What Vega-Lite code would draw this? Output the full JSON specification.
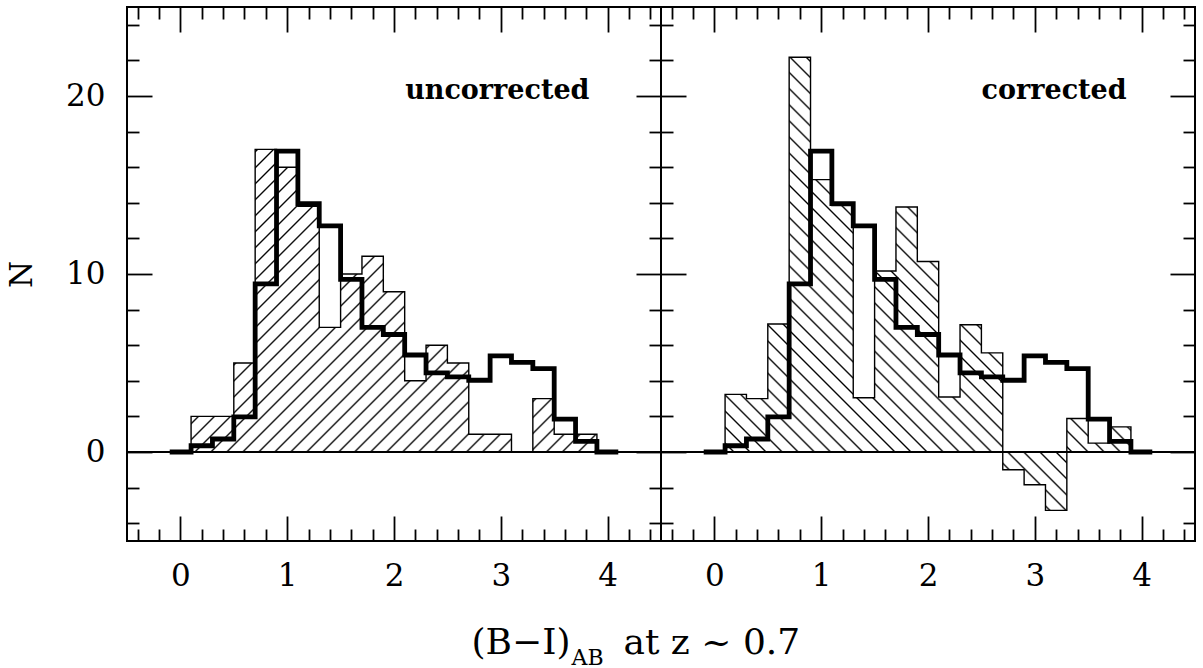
{
"$schema": "https://vega.github.io/schema/vega-lite/v6.json",
"background": "white",
"padding": {"left": 5, "top": 5, "right": 5, "bottom": 0},
"spacing": 0,
"bounds": "flush",
"config": {
  "view": {"stroke": "black", "strokeWidth": 2},
  "axis": {"grid": false, "domain": false, "labelFont": "DejaVu Serif", "titleFont": "DejaVu Serif", "labelColor": "#000", "titleColor": "#000", "tickColor": "#000"}
},
"datasets": {
  "hist": [
    {"x": -0.1, "model": 0, "unc": 0, "cor": 0},
    {"x": 0.1, "model": 0.35, "unc": 2, "cor": 3.24},
    {"x": 0.3, "model": 0.73, "unc": 2, "cor": 3.0},
    {"x": 0.5, "model": 1.97, "unc": 5, "cor": 7.19},
    {"x": 0.7, "model": 9.45, "unc": 17, "cor": 22.18},
    {"x": 0.9, "model": 16.9, "unc": 16, "cor": 15.3},
    {"x": 1.1, "model": 13.95, "unc": 13.8, "cor": 13.85},
    {"x": 1.3, "model": 12.7, "unc": 7, "cor": 3.05},
    {"x": 1.5, "model": 9.7, "unc": 10, "cor": 10.17},
    {"x": 1.7, "model": 7.0, "unc": 11, "cor": 13.76},
    {"x": 1.9, "model": 6.6, "unc": 9, "cor": 10.7},
    {"x": 2.1, "model": 5.45, "unc": 4, "cor": 3.09},
    {"x": 2.3, "model": 4.45, "unc": 6, "cor": 7.15},
    {"x": 2.5, "model": 4.22, "unc": 5, "cor": 5.57},
    {"x": 2.7, "model": 4.03, "unc": 1, "cor": -1.0},
    {"x": 2.9, "model": 5.4, "unc": 1, "cor": -1.84},
    {"x": 3.1, "model": 5.03, "unc": 0, "cor": -3.28},
    {"x": 3.3, "model": 4.68, "unc": 3, "cor": 1.88},
    {"x": 3.5, "model": 1.85, "unc": 1, "cor": 0.5},
    {"x": 3.7, "model": 0.6, "unc": 1, "cor": 1.41},
    {"x": 3.9, "model": 0, "unc": 0, "cor": 0},
    {"x": 4.1, "model": 0, "unc": 0, "cor": 0}
  ]
},
"hconcat": [
  {
    "width": 534,
    "height": 534,
    "data": {"name": "hist"},
    "layer": [
      {
        "mark": {"type": "area", "interpolate": "step-after", "opacity": 1, "fillOpacity": 1,
          "fill": {"gradient": "linear", "x1": 0, "y1": 0, "x2": 1.1509, "y2": 0.7763, "stops": [
{"offset":0.0081,"color":"#fff"},{"offset":0.0106,"color":"#000"},{"offset":0.0131,"color":"#fff"},
{"offset":0.0294,"color":"#fff"},{"offset":0.0319,"color":"#000"},{"offset":0.0344,"color":"#fff"},
{"offset":0.0507,"color":"#fff"},{"offset":0.0532,"color":"#000"},{"offset":0.0557,"color":"#fff"},
{"offset":0.0720,"color":"#fff"},{"offset":0.0745,"color":"#000"},{"offset":0.0770,"color":"#fff"},
{"offset":0.0932,"color":"#fff"},{"offset":0.0957,"color":"#000"},{"offset":0.0982,"color":"#fff"},
{"offset":0.1145,"color":"#fff"},{"offset":0.1170,"color":"#000"},{"offset":0.1195,"color":"#fff"},
{"offset":0.1358,"color":"#fff"},{"offset":0.1383,"color":"#000"},{"offset":0.1408,"color":"#fff"},
{"offset":0.1571,"color":"#fff"},{"offset":0.1596,"color":"#000"},{"offset":0.1621,"color":"#fff"},
{"offset":0.1783,"color":"#fff"},{"offset":0.1808,"color":"#000"},{"offset":0.1833,"color":"#fff"},
{"offset":0.1996,"color":"#fff"},{"offset":0.2021,"color":"#000"},{"offset":0.2046,"color":"#fff"},
{"offset":0.2209,"color":"#fff"},{"offset":0.2234,"color":"#000"},{"offset":0.2259,"color":"#fff"},
{"offset":0.2422,"color":"#fff"},{"offset":0.2447,"color":"#000"},{"offset":0.2472,"color":"#fff"},
{"offset":0.2635,"color":"#fff"},{"offset":0.2660,"color":"#000"},{"offset":0.2685,"color":"#fff"},
{"offset":0.2847,"color":"#fff"},{"offset":0.2872,"color":"#000"},{"offset":0.2897,"color":"#fff"},
{"offset":0.3060,"color":"#fff"},{"offset":0.3085,"color":"#000"},{"offset":0.3110,"color":"#fff"},
{"offset":0.3273,"color":"#fff"},{"offset":0.3298,"color":"#000"},{"offset":0.3323,"color":"#fff"},
{"offset":0.3486,"color":"#fff"},{"offset":0.3511,"color":"#000"},{"offset":0.3536,"color":"#fff"},
{"offset":0.3698,"color":"#fff"},{"offset":0.3723,"color":"#000"},{"offset":0.3748,"color":"#fff"},
{"offset":0.3911,"color":"#fff"},{"offset":0.3936,"color":"#000"},{"offset":0.3961,"color":"#fff"},
{"offset":0.4124,"color":"#fff"},{"offset":0.4149,"color":"#000"},{"offset":0.4174,"color":"#fff"},
{"offset":0.4337,"color":"#fff"},{"offset":0.4362,"color":"#000"},{"offset":0.4387,"color":"#fff"},
{"offset":0.4550,"color":"#fff"},{"offset":0.4575,"color":"#000"},{"offset":0.4600,"color":"#fff"},
{"offset":0.4762,"color":"#fff"},{"offset":0.4787,"color":"#000"},{"offset":0.4812,"color":"#fff"},
{"offset":0.4975,"color":"#fff"},{"offset":0.5000,"color":"#000"},{"offset":0.5025,"color":"#fff"},
{"offset":0.5188,"color":"#fff"},{"offset":0.5213,"color":"#000"},{"offset":0.5238,"color":"#fff"},
{"offset":0.5401,"color":"#fff"},{"offset":0.5426,"color":"#000"},{"offset":0.5451,"color":"#fff"},
{"offset":0.5613,"color":"#fff"},{"offset":0.5638,"color":"#000"},{"offset":0.5663,"color":"#fff"},
{"offset":0.5826,"color":"#fff"},{"offset":0.5851,"color":"#000"},{"offset":0.5876,"color":"#fff"},
{"offset":0.6039,"color":"#fff"},{"offset":0.6064,"color":"#000"},{"offset":0.6089,"color":"#fff"},
{"offset":0.6252,"color":"#fff"},{"offset":0.6277,"color":"#000"},{"offset":0.6302,"color":"#fff"},
{"offset":0.6464,"color":"#fff"},{"offset":0.6489,"color":"#000"},{"offset":0.6514,"color":"#fff"},
{"offset":0.6677,"color":"#fff"},{"offset":0.6702,"color":"#000"},{"offset":0.6727,"color":"#fff"},
{"offset":0.6890,"color":"#fff"},{"offset":0.6915,"color":"#000"},{"offset":0.6940,"color":"#fff"},
{"offset":0.7103,"color":"#fff"},{"offset":0.7128,"color":"#000"},{"offset":0.7153,"color":"#fff"},
{"offset":0.7315,"color":"#fff"},{"offset":0.7340,"color":"#000"},{"offset":0.7365,"color":"#fff"},
{"offset":0.7528,"color":"#fff"},{"offset":0.7553,"color":"#000"},{"offset":0.7578,"color":"#fff"},
{"offset":0.7741,"color":"#fff"},{"offset":0.7766,"color":"#000"},{"offset":0.7791,"color":"#fff"},
{"offset":0.7954,"color":"#fff"},{"offset":0.7979,"color":"#000"},{"offset":0.8004,"color":"#fff"},
{"offset":0.8167,"color":"#fff"},{"offset":0.8192,"color":"#000"},{"offset":0.8217,"color":"#fff"},
{"offset":0.8379,"color":"#fff"},{"offset":0.8404,"color":"#000"},{"offset":0.8429,"color":"#fff"},
{"offset":0.8592,"color":"#fff"},{"offset":0.8617,"color":"#000"},{"offset":0.8642,"color":"#fff"},
{"offset":0.8805,"color":"#fff"},{"offset":0.8830,"color":"#000"},{"offset":0.8855,"color":"#fff"},
{"offset":0.9018,"color":"#fff"},{"offset":0.9043,"color":"#000"},{"offset":0.9068,"color":"#fff"},
{"offset":0.9230,"color":"#fff"},{"offset":0.9255,"color":"#000"},{"offset":0.9280,"color":"#fff"},
{"offset":0.9443,"color":"#fff"},{"offset":0.9468,"color":"#000"},{"offset":0.9493,"color":"#fff"},
{"offset":0.9656,"color":"#fff"},{"offset":0.9681,"color":"#000"},{"offset":0.9706,"color":"#fff"},
{"offset":0.9869,"color":"#fff"},{"offset":0.9894,"color":"#000"},{"offset":0.9919,"color":"#fff"}
          ]}},
        "encoding": {
          "x": {"field": "x", "type": "quantitative", "scale": {"domain": [-0.5, 4.5], "nice": false, "zero": false},
            "axis": {"orient": "bottom", "values": [0, 1, 2, 3, 4], "format": "d", "ticks": false, "domain": false, "labelFontSize": 31, "labelPadding": 20, "labelFlush": false, "labelOverlap": false,
              "title": "(B−I)", "titleFontSize": 36, "titleFontWeight": "normal", "titleAlign": "right", "titleBaseline": "alphabetic", "titleX": 443, "titleY": 112}},
          "y": {"field": "unc", "type": "quantitative", "stack": null, "scale": {"domain": [-5, 25], "nice": false, "zero": false},
            "axis": {"orient": "left", "values": [0, 10, 20], "format": "d", "ticks": false, "domain": false, "labelFontSize": 31, "labelPadding": 22, "labelOverlap": false,
              "title": "N", "titleFontSize": 31, "titleFontWeight": "normal", "titlePadding": 27}},
          "y2": {"datum": 0}
        }
      },
      {
        "mark": {"type": "line", "interpolate": "step-after", "color": "black", "strokeWidth": 1.4},
        "encoding": {
          "x": {"field": "x", "type": "quantitative", "scale": {"domain": [-0.5, 4.5], "nice": false, "zero": false},
            "axis": {"orient": "bottom", "values": [-0.4, -0.2, 0, 0.2, 0.4, 0.6, 0.8, 1, 1.2, 1.4, 1.6, 1.8, 2, 2.2, 2.4, 2.6, 2.8, 3, 3.2, 3.4, 3.6, 3.8, 4, 4.2, 4.4],
              "labels": false, "domain": false, "ticks": true, "tickSize": {"expr": "datum.value % 1 === 0 ? -25 : -12"}, "tickWidth": 1.8,
              "title": "AB", "titleFontSize": 22, "titleFontWeight": "normal", "titleAlign": "left", "titleBaseline": "alphabetic", "titleX": 444, "titleY": 123}},
          "y": {"field": "unc", "type": "quantitative", "scale": {"domain": [-5, 25], "nice": false, "zero": false},
            "axis": {"orient": "left", "values": [-4, -2, 0, 2, 4, 6, 8, 10, 12, 14, 16, 18, 20, 22, 24], "labels": false, "domain": false, "ticks": true,
              "tickSize": {"expr": "datum.value % 10 === 0 ? -25 : -12"}, "tickWidth": 1.8, "title": null}}
        }
      },
      {
        "mark": {"type": "line", "interpolate": "step-after", "color": "black", "strokeWidth": 4.8},
        "encoding": {
          "x": {"field": "x", "type": "quantitative", "scale": {"domain": [-0.5, 4.5], "nice": false, "zero": false},
            "axis": {"orient": "top", "values": [-0.4, -0.2, 0, 0.2, 0.4, 0.6, 0.8, 1, 1.2, 1.4, 1.6, 1.8, 2, 2.2, 2.4, 2.6, 2.8, 3, 3.2, 3.4, 3.6, 3.8, 4, 4.2, 4.4],
              "labels": false, "domain": false, "ticks": true, "tickSize": {"expr": "datum.value % 1 === 0 ? -25 : -12"}, "tickWidth": 1.8, "title": null}},
          "y": {"field": "model", "type": "quantitative", "scale": {"domain": [-5, 25], "nice": false, "zero": false},
            "axis": {"orient": "right", "values": [-4, -2, 0, 2, 4, 6, 8, 10, 12, 14, 16, 18, 20, 22, 24], "labels": false, "domain": false, "ticks": true,
              "tickSize": {"expr": "datum.value % 10 === 0 ? -25 : -12"}, "tickWidth": 1.8, "title": null}}
        }
      },
      {
        "mark": {"type": "rule", "color": "black", "strokeWidth": 1.8},
        "encoding": {
          "x": {"datum": -0.5, "type": "quantitative",
            "axis": {"orient": "bottom", "labels": false, "ticks": false, "domain": false,
              "title": "at z ~ 0.7", "titleFontSize": 36, "titleFontWeight": "normal", "titleAlign": "left", "titleBaseline": "alphabetic", "titleX": 496, "titleY": 112}},
          "x2": {"datum": 4.5},
          "y": {"datum": 0, "type": "quantitative", "axis": null}
        }
      },
      {
        "data": {"values": [{"label": "uncorrected"}]},
        "mark": {"type": "text", "align": "right", "baseline": "middle", "font": "DejaVu Serif", "fontSize": 27, "fontWeight": "bold", "color": "black"},
        "encoding": {
          "x": {"datum": 3.83, "type": "quantitative", "axis": null},
          "y": {"datum": 20.3, "type": "quantitative", "axis": null},
          "text": {"field": "label"}
        }
      }
    ],
    "resolve": {"axis": {"x": "independent", "y": "independent"}}
  },
  {
    "width": 534,
    "height": 534,
    "data": {"name": "hist"},
    "layer": [
      {
        "mark": {"type": "area", "interpolate": "step-after", "opacity": 1, "fillOpacity": 1,
          "fill": {"gradient": "linear", "x1": 0, "y1": 1, "x2": 0.9949, "y2": -0.0051, "stops": [
{"offset":0.0068,"color":"#fff"},{"offset":0.0089,"color":"#000"},{"offset":0.0110,"color":"#fff"},
{"offset":0.0247,"color":"#fff"},{"offset":0.0268,"color":"#000"},{"offset":0.0289,"color":"#fff"},
{"offset":0.0425,"color":"#fff"},{"offset":0.0446,"color":"#000"},{"offset":0.0467,"color":"#fff"},
{"offset":0.0604,"color":"#fff"},{"offset":0.0625,"color":"#000"},{"offset":0.0646,"color":"#fff"},
{"offset":0.0783,"color":"#fff"},{"offset":0.0804,"color":"#000"},{"offset":0.0825,"color":"#fff"},
{"offset":0.0961,"color":"#fff"},{"offset":0.0982,"color":"#000"},{"offset":0.1003,"color":"#fff"},
{"offset":0.1140,"color":"#fff"},{"offset":0.1161,"color":"#000"},{"offset":0.1182,"color":"#fff"},
{"offset":0.1318,"color":"#fff"},{"offset":0.1339,"color":"#000"},{"offset":0.1360,"color":"#fff"},
{"offset":0.1497,"color":"#fff"},{"offset":0.1518,"color":"#000"},{"offset":0.1539,"color":"#fff"},
{"offset":0.1675,"color":"#fff"},{"offset":0.1696,"color":"#000"},{"offset":0.1717,"color":"#fff"},
{"offset":0.1854,"color":"#fff"},{"offset":0.1875,"color":"#000"},{"offset":0.1896,"color":"#fff"},
{"offset":0.2033,"color":"#fff"},{"offset":0.2054,"color":"#000"},{"offset":0.2075,"color":"#fff"},
{"offset":0.2211,"color":"#fff"},{"offset":0.2232,"color":"#000"},{"offset":0.2253,"color":"#fff"},
{"offset":0.2390,"color":"#fff"},{"offset":0.2411,"color":"#000"},{"offset":0.2432,"color":"#fff"},
{"offset":0.2568,"color":"#fff"},{"offset":0.2589,"color":"#000"},{"offset":0.2610,"color":"#fff"},
{"offset":0.2747,"color":"#fff"},{"offset":0.2768,"color":"#000"},{"offset":0.2789,"color":"#fff"},
{"offset":0.2925,"color":"#fff"},{"offset":0.2946,"color":"#000"},{"offset":0.2967,"color":"#fff"},
{"offset":0.3104,"color":"#fff"},{"offset":0.3125,"color":"#000"},{"offset":0.3146,"color":"#fff"},
{"offset":0.3283,"color":"#fff"},{"offset":0.3304,"color":"#000"},{"offset":0.3325,"color":"#fff"},
{"offset":0.3461,"color":"#fff"},{"offset":0.3482,"color":"#000"},{"offset":0.3503,"color":"#fff"},
{"offset":0.3640,"color":"#fff"},{"offset":0.3661,"color":"#000"},{"offset":0.3682,"color":"#fff"},
{"offset":0.3818,"color":"#fff"},{"offset":0.3839,"color":"#000"},{"offset":0.3860,"color":"#fff"},
{"offset":0.3997,"color":"#fff"},{"offset":0.4018,"color":"#000"},{"offset":0.4039,"color":"#fff"},
{"offset":0.4175,"color":"#fff"},{"offset":0.4196,"color":"#000"},{"offset":0.4217,"color":"#fff"},
{"offset":0.4354,"color":"#fff"},{"offset":0.4375,"color":"#000"},{"offset":0.4396,"color":"#fff"},
{"offset":0.4533,"color":"#fff"},{"offset":0.4554,"color":"#000"},{"offset":0.4575,"color":"#fff"},
{"offset":0.4711,"color":"#fff"},{"offset":0.4732,"color":"#000"},{"offset":0.4753,"color":"#fff"},
{"offset":0.4890,"color":"#fff"},{"offset":0.4911,"color":"#000"},{"offset":0.4932,"color":"#fff"},
{"offset":0.5068,"color":"#fff"},{"offset":0.5089,"color":"#000"},{"offset":0.5110,"color":"#fff"},
{"offset":0.5247,"color":"#fff"},{"offset":0.5268,"color":"#000"},{"offset":0.5289,"color":"#fff"},
{"offset":0.5425,"color":"#fff"},{"offset":0.5446,"color":"#000"},{"offset":0.5467,"color":"#fff"},
{"offset":0.5604,"color":"#fff"},{"offset":0.5625,"color":"#000"},{"offset":0.5646,"color":"#fff"},
{"offset":0.5783,"color":"#fff"},{"offset":0.5804,"color":"#000"},{"offset":0.5825,"color":"#fff"},
{"offset":0.5961,"color":"#fff"},{"offset":0.5982,"color":"#000"},{"offset":0.6003,"color":"#fff"},
{"offset":0.6140,"color":"#fff"},{"offset":0.6161,"color":"#000"},{"offset":0.6182,"color":"#fff"},
{"offset":0.6318,"color":"#fff"},{"offset":0.6339,"color":"#000"},{"offset":0.6360,"color":"#fff"},
{"offset":0.6497,"color":"#fff"},{"offset":0.6518,"color":"#000"},{"offset":0.6539,"color":"#fff"},
{"offset":0.6675,"color":"#fff"},{"offset":0.6696,"color":"#000"},{"offset":0.6717,"color":"#fff"},
{"offset":0.6854,"color":"#fff"},{"offset":0.6875,"color":"#000"},{"offset":0.6896,"color":"#fff"},
{"offset":0.7033,"color":"#fff"},{"offset":0.7054,"color":"#000"},{"offset":0.7075,"color":"#fff"},
{"offset":0.7211,"color":"#fff"},{"offset":0.7232,"color":"#000"},{"offset":0.7253,"color":"#fff"},
{"offset":0.7390,"color":"#fff"},{"offset":0.7411,"color":"#000"},{"offset":0.7432,"color":"#fff"},
{"offset":0.7568,"color":"#fff"},{"offset":0.7589,"color":"#000"},{"offset":0.7610,"color":"#fff"},
{"offset":0.7747,"color":"#fff"},{"offset":0.7768,"color":"#000"},{"offset":0.7789,"color":"#fff"},
{"offset":0.7925,"color":"#fff"},{"offset":0.7946,"color":"#000"},{"offset":0.7967,"color":"#fff"},
{"offset":0.8104,"color":"#fff"},{"offset":0.8125,"color":"#000"},{"offset":0.8146,"color":"#fff"},
{"offset":0.8283,"color":"#fff"},{"offset":0.8304,"color":"#000"},{"offset":0.8325,"color":"#fff"},
{"offset":0.8461,"color":"#fff"},{"offset":0.8482,"color":"#000"},{"offset":0.8503,"color":"#fff"},
{"offset":0.8640,"color":"#fff"},{"offset":0.8661,"color":"#000"},{"offset":0.8682,"color":"#fff"},
{"offset":0.8818,"color":"#fff"},{"offset":0.8839,"color":"#000"},{"offset":0.8860,"color":"#fff"},
{"offset":0.8997,"color":"#fff"},{"offset":0.9018,"color":"#000"},{"offset":0.9039,"color":"#fff"},
{"offset":0.9175,"color":"#fff"},{"offset":0.9196,"color":"#000"},{"offset":0.9217,"color":"#fff"},
{"offset":0.9354,"color":"#fff"},{"offset":0.9375,"color":"#000"},{"offset":0.9396,"color":"#fff"},
{"offset":0.9533,"color":"#fff"},{"offset":0.9554,"color":"#000"},{"offset":0.9575,"color":"#fff"},
{"offset":0.9711,"color":"#fff"},{"offset":0.9732,"color":"#000"},{"offset":0.9753,"color":"#fff"},
{"offset":0.9890,"color":"#fff"},{"offset":0.9911,"color":"#000"},{"offset":0.9932,"color":"#fff"}
          ]}},
        "encoding": {
          "x": {"field": "x", "type": "quantitative", "scale": {"domain": [-0.5, 4.5], "nice": false, "zero": false},
            "axis": {"orient": "bottom", "values": [0, 1, 2, 3, 4], "format": "d", "ticks": false, "domain": false, "labelFontSize": 31, "labelPadding": 20, "labelFlush": false, "labelOverlap": false, "title": null}},
          "y": {"field": "cor", "type": "quantitative", "stack": null, "scale": {"domain": [-5, 25], "nice": false, "zero": false},
            "axis": {"orient": "left", "values": [-4, -2, 0, 2, 4, 6, 8, 10, 12, 14, 16, 18, 20, 22, 24], "labels": false, "domain": false, "ticks": true,
              "tickSize": {"expr": "datum.value % 10 === 0 ? -25 : -12"}, "tickWidth": 1.8, "title": null}},
          "y2": {"datum": 0}
        }
      },
      {
        "mark": {"type": "line", "interpolate": "step-after", "color": "black", "strokeWidth": 1.4},
        "encoding": {
          "x": {"field": "x", "type": "quantitative", "scale": {"domain": [-0.5, 4.5], "nice": false, "zero": false},
            "axis": {"orient": "bottom", "values": [-0.4, -0.2, 0, 0.2, 0.4, 0.6, 0.8, 1, 1.2, 1.4, 1.6, 1.8, 2, 2.2, 2.4, 2.6, 2.8, 3, 3.2, 3.4, 3.6, 3.8, 4, 4.2, 4.4],
              "labels": false, "domain": false, "ticks": true, "tickSize": {"expr": "datum.value % 1 === 0 ? -25 : -12"}, "tickWidth": 1.8, "title": null}},
          "y": {"field": "cor", "type": "quantitative", "scale": {"domain": [-5, 25], "nice": false, "zero": false},
            "axis": {"orient": "right", "values": [-4, -2, 0, 2, 4, 6, 8, 10, 12, 14, 16, 18, 20, 22, 24], "labels": false, "domain": false, "ticks": true,
              "tickSize": {"expr": "datum.value % 10 === 0 ? -25 : -12"}, "tickWidth": 1.8, "title": null}}
        }
      },
      {
        "mark": {"type": "line", "interpolate": "step-after", "color": "black", "strokeWidth": 4.8},
        "encoding": {
          "x": {"field": "x", "type": "quantitative", "scale": {"domain": [-0.5, 4.5], "nice": false, "zero": false},
            "axis": {"orient": "top", "values": [-0.4, -0.2, 0, 0.2, 0.4, 0.6, 0.8, 1, 1.2, 1.4, 1.6, 1.8, 2, 2.2, 2.4, 2.6, 2.8, 3, 3.2, 3.4, 3.6, 3.8, 4, 4.2, 4.4],
              "labels": false, "domain": false, "ticks": true, "tickSize": {"expr": "datum.value % 1 === 0 ? -25 : -12"}, "tickWidth": 1.8, "title": null}},
          "y": {"field": "model", "type": "quantitative", "scale": {"domain": [-5, 25], "nice": false, "zero": false}, "axis": null}
        }
      },
      {
        "mark": {"type": "rule", "color": "black", "strokeWidth": 1.8},
        "encoding": {
          "y": {"datum": 0, "type": "quantitative", "axis": null}
        }
      },
      {
        "data": {"values": [{"label": "corrected"}]},
        "mark": {"type": "text", "align": "right", "baseline": "middle", "font": "DejaVu Serif", "fontSize": 27, "fontWeight": "bold", "color": "black"},
        "encoding": {
          "x": {"datum": 3.86, "type": "quantitative", "axis": null},
          "y": {"datum": 20.3, "type": "quantitative", "axis": null},
          "text": {"field": "label"}
        }
      }
    ],
    "resolve": {"axis": {"x": "independent", "y": "independent"}}
  }
]
}
